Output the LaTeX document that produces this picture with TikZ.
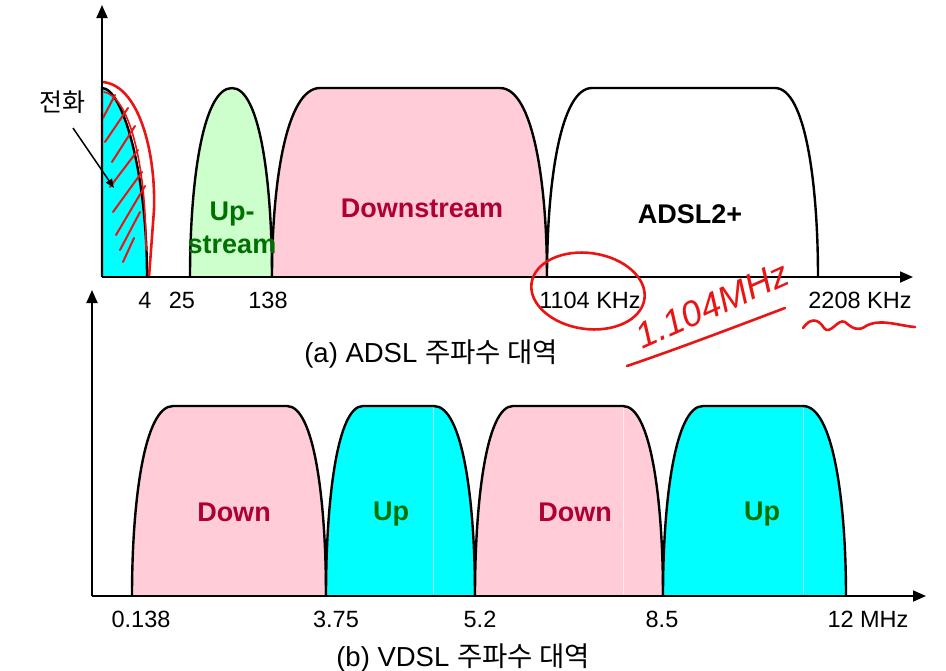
\documentclass[tikz,border=0pt]{standalone}
\usepackage{fontspec}
\setmainfont{Liberation Sans}
\newfontfamily\kr{Noto Sans CJK KR}
\usetikzlibrary{arrows.meta}
\definecolor{bandpink}{RGB}{255,204,216}
\definecolor{bandgreen}{RGB}{204,255,204}
\definecolor{bandcyan}{RGB}{0,255,255}
\definecolor{downtxt}{RGB}{175,0,50}
\definecolor{uptxt}{RGB}{0,112,0}
\definecolor{pen}{RGB}{235,20,20}
\newcommand\DSLband[7]{% fill, xa, xl, xr, xb, ybottom, ytop
  \pgfmathsetmacro\bh{#6-#7}%
  \pgfmathsetmacro\cy{#7+0.5*\bh}%
  \pgfmathsetmacro\clx{#2+0.3*(#3-#2)}%
  \pgfmathsetmacro\crx{#5-0.3*(#5-#4)}%
  \filldraw[band,fill=#1] (#2,#6) .. controls (#2,\cy) and (\clx,#7) .. (#3,#7)
     -- (#4,#7) .. controls (\crx,#7) and (#5,\cy) .. (#5,#6);}
\begin{document}
\begin{tikzpicture}[x=1pt,y=-1pt,
  band/.style={line width=2.4pt,draw=black},
  axis/.style={line width=1.8pt,-{Triangle[length=13pt,width=11pt]}},
  tick/.style={font=\fontsize{23.5}{26}\selectfont,anchor=base},
  bandlbl/.style={font=\bfseries\fontsize{27}{30}\selectfont},
  capt/.style={font=\fontsize{27.5}{30}\selectfont,anchor=base},
  redpen/.style={pen,line width=2.6pt,line cap=round,line join=round}]
\useasboundingbox (0,0) rectangle (946,670);
\fill[white] (0,0) rectangle (946,670);

% ---------- (a) ADSL ----------
% phone band
\filldraw[band,fill=bandcyan] (102,277) -- (102,88) .. controls (122,88) and (147,170) .. (147,277);
\DSLband{bandgreen}{190}{232}{232}{272}{277}{88}
\DSLband{bandpink}{272}{320}{500}{547}{277}{88}
\DSLband{white}{547}{592}{775}{818}{277}{88}

% red annotations on phone band
\draw[redpen] (102,82) .. controls (138,84) and (156,150) .. (154,210) -- (149,277);
\draw[redpen,line width=1.6pt] (104,92) .. controls (128,96) and (146,160) .. (146,250);
\foreach \a/\b/\c/\d in {103/118/115/95, 105/142/128/108, 112/162/135/126, 110/187/138/150,
  113/212/142/172, 116/235/145/186, 120/250/140/212, 123/262/134/238}
  \draw[redpen,line width=2pt] (\a,\b) -- (\c,\d);

\draw[axis] (102,277) -- (102,5);
\draw[axis] (102,277) -- (913,277);

\node[bandlbl,text=uptxt,align=center,font=\bfseries\fontsize{27}{33}\selectfont] (upa) at (232,228) {Up-\\stream};
\node[bandlbl,text=downtxt] (downa) at (422,208) {Downstream};
\node[bandlbl,text=black] (adsl2) at (690,214) {ADSL2+};

\node[tick] (t4) at (145,308) {4};
\node[tick] (t25) at (182,308) {25};
\node[tick] (t138) at (268,308) {138};
\node[tick] (t1104) at (590,308) {1104 KHz};
\node[tick] (t2208) at (860,308) {2208 KHz};
\node[capt] (capa) at (431,362) {(a) ADSL {\kr 주파수 대역}};

\node[font=\kr\fontsize{25}{27}\selectfont] (phone) at (62,102) {전화};
\coordinate (phonept) at (114,188);
\draw[line width=1.5pt,-{Triangle[length=9pt,width=7pt]}] (73,128) -- (phonept);

% handwritten notes
\draw[redpen,rotate around={-8:(588,291)}] (588,291) ellipse [x radius=57, y radius=38];
\node[text=pen,rotate=24,font=\itshape\fontsize{36}{38}\selectfont] (note) at (712,305) {1.104MHz};
\draw[redpen] (627,366) .. controls (680,348) and (740,325) .. (785,308);
\draw[redpen] (803,328) .. controls (810,318) and (818,318) .. (824,328) .. controls (830,336) and (838,318) .. (845,322)
  .. controls (852,328) and (858,332) .. (866,326) .. controls (880,318) and (900,326) .. (915,327);

% ---------- (b) VDSL ----------
\DSLband{bandpink}{132}{173}{287}{326}{596}{406}
\DSLband{bandcyan}{326}{363}{434}{475}{596}{406}
\DSLband{bandpink}{475}{513}{623}{663}{596}{406}
\DSLband{bandcyan}{663}{703}{803}{846}{596}{406}
\foreach \x in {433,623,803} \draw[white,opacity=0.7,line width=0.8pt] (\x,408) -- (\x,594);

\draw[axis] (92,596) -- (92,290);
\draw[axis] (92,596) -- (926,596);

\node[bandlbl,text=downtxt] (down1) at (234,512) {Down};
\node[bandlbl,text=uptxt] (up1) at (391,514) {Up};
\node[bandlbl,text=downtxt] (down2) at (575,512) {Down};
\node[bandlbl,text=uptxt] (up2) at (762,514) {Up};

\node[tick] (v0) at (141,627) {0.138};
\node[tick] (v1) at (336,627) {3.75};
\node[tick] (v2) at (480,627) {5.2};
\node[tick] (v3) at (662,627) {8.5};
\node[tick] (v4) at (868,627) {12 MHz};
\node[capt] (capb) at (463,666) {(b) VDSL {\kr 주파수 대역}};
\end{tikzpicture}
\end{document}
